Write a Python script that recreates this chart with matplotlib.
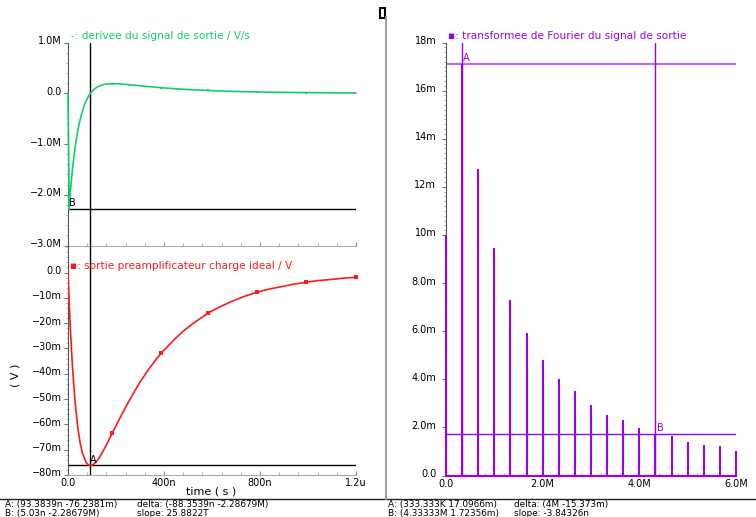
import matplotlib
matplotlib.use('Agg')
import matplotlib.pyplot as plt
import matplotlib.transforms as mtransforms
from matplotlib.patches import Rectangle
from matplotlib.lines import Line2D
from matplotlib.ticker import MultipleLocator

# ---------------- data ----------------
# output of the charge preamplifier: time in ns, value in mV
t_out_ns = [0, 5, 10, 15, 20, 30, 40, 50, 60, 75, 85, 93, 100, 110, 120, 130, 150, 170,
            183, 200, 220, 240, 260, 280, 300, 320, 340, 360, 388, 420, 450, 480, 520,
            540, 584, 630, 680, 730, 787, 840, 890, 940, 991, 1040, 1090, 1140, 1200]
v_out_mV = [0, -12.0, -22.4, -31.4, -39.2, -51.6, -60.6, -67.0, -71.3, -75.0, -76.0,
            -76.24, -76.1, -75.5, -74.5, -73.2, -69.9, -66.3, -63.6, -60.6, -56.8, -53.2,
            -49.8, -46.5, -43.3, -40.5, -37.7, -35.2, -31.9, -28.7, -25.8, -23.2, -20.2,
            -18.9, -16.0, -13.7, -11.5, -9.6, -7.8, -6.5, -5.6, -4.6, -3.9, -3.2, -2.8,
            -2.3, -1.9]
out_marker_idx = [18, 28, 34, 38, 42, 46]

# derivative of the output: time in ns, value in MV/s
t_der_ns = [0, 5.03, 7.5, 10, 15, 20, 25, 30, 35, 40, 45, 50, 60, 67, 75, 84, 93, 110,
            120, 130, 150, 170, 183, 200, 230, 260, 300, 340, 388, 430, 480, 530, 584,
            630, 680, 730, 787, 840, 890, 940, 991, 1050, 1100, 1150, 1200]
d_out_MVs = [0, -2.287, -2.078, -1.935, -1.673, -1.441, -1.237, -1.057, -0.899, -0.759,
             -0.636, -0.528, -0.348, -0.248, -0.154, -0.069, 0.0, 0.085, 0.119, 0.144,
             0.175, 0.188, 0.190, 0.189, 0.180, 0.167, 0.148, 0.131, 0.111, 0.096, 0.080,
             0.068, 0.056, 0.048, 0.039, 0.034, 0.028, 0.023, 0.019, 0.0165, 0.014,
             0.0113, 0.0095, 0.008, 0.0068]
der_marker_idx = [22, 28, 32, 36, 40]

# Fourier transform: frequency in MHz, magnitude in mV
fft_freq_MHz = [0.0, 0.33333, 0.66667, 1.0, 1.33333, 1.66667, 2.0, 2.33333, 2.66667, 3.0,
                3.33333, 3.66667, 4.0, 4.33333, 4.66667, 5.0, 5.33333, 5.66667, 6.0]
fft_mag_mV = [10.0, 17.0966, 12.7, 9.45, 7.3, 5.9, 4.8, 4.0, 3.48, 2.92, 2.53, 2.28,
              1.96, 1.72356, 1.61, 1.38, 1.26, 1.19, 1.03]
fft_marker_idx = [2, 5, 8, 11, 14, 17]

# tick labels
M = '\u2212'
top_yticks = [1.0, 0.0, -1.0, -2.0, -3.0]
top_ylabels = ['1.0M', '0.0', M + '1.0M', M + '2.0M', M + '3.0M']
bot_yticks = [0, -10, -20, -30, -40, -50, -60, -70, -80]
bot_ylabels = ['0.0', M + '10m', M + '20m', M + '30m', M + '40m', M + '50m', M + '60m',
               M + '70m', M + '80m']
time_ticks = [0, 400, 800, 1200]
time_labels = ['0.0', '400n', '800n', '1.2u']
fft_yticks = [0, 2, 4, 6, 8, 10, 12, 14, 16, 18]
fft_ylabels = ['0.0', '2.0m', '4.0m', '6.0m', '8.0m', '10m', '12m', '14m', '16m', '18m']
fft_xticks = [0, 2, 4, 6]
fft_xlabels = ['0.0', '2.0M', '4.0M', '6.0M']

# cursors
cursA_left = (93.3839, -76.2381)
cursB_left = (5.03, -2.28679)
cursA_right = (0.333333, 17.0966)
cursB_right = (4.33333, 1.72356)

status_left = [('A: (93.3839n -76.2381m)', 'delta: (-88.3539n -2.28679M)'),
               ('B: (5.03n -2.28679M)', 'slope: 25.8822T')]
status_right = [('A: (333.333K 17.0966m)', 'delta: (4M -15.373m)'),
                ('B: (4.33333M 1.72356m)', 'slope: -3.84326n')]

GREEN = '#14cc6e'
RED = '#ff1a1a'
PURPLE = '#9a00ea'
PURPLE_LIGHT = '#bb6cf0'

plt.rcParams['font.family'] = ['DejaVu Sans']
plt.rcParams['axes.unicode_minus'] = False

W, H = 756, 517
fig = plt.figure(figsize=(W / 100, H / 100), dpi=100)


def px_axes(x0, y0, x1, y1):
    return fig.add_axes([x0 / W, 1 - y1 / H, (x1 - x0) / W, (y1 - y0) / H])


def style(ax, xminor, yminor, ypad=1.5):
    ax.set_facecolor('none')
    for s in ['top', 'right']:
        ax.spines[s].set_visible(False)
    ax.spines['left'].set_color('#555555')
    ax.spines['bottom'].set_color('#aaaaaa')
    ax.tick_params(axis='y', which='major', direction='out', color='#777777',
                   labelsize=7, length=3, pad=ypad, width=0.8)
    ax.tick_params(axis='y', which='minor', direction='out', color='#aaaaaa',
                   length=1.5, width=0.6)
    ax.tick_params(axis='x', which='major', direction='in', color='#888888',
                   labelsize=7, length=3, pad=2.5, width=0.8)
    ax.tick_params(axis='x', which='minor', direction='in', color='#aaaaaa',
                   length=2, width=0.6)
    ax.xaxis.set_minor_locator(MultipleLocator(xminor))
    ax.yaxis.set_minor_locator(MultipleLocator(yminor))


def shift_ylabels(ax, dy_px=2.5):
    off = mtransforms.ScaledTranslation(0, dy_px / 100, fig.dpi_scale_trans)
    for lab in ax.get_yticklabels():
        lab.set_transform(lab.get_transform() + off)


# ---------------- top-left: derivative ----------------
ax1 = px_axes(68, 42.6, 356, 245.5)
ax1.set_xlim(0, 1200)
ax1.set_ylim(-3.0, 1.0)
style(ax1, 80, 0.2)
ax1.set_xticks(time_ticks)
ax1.set_xticklabels([])
ax1.set_yticks(top_yticks)
ax1.set_yticklabels(top_ylabels)
shift_ylabels(ax1)
ax1.plot(t_der_ns, d_out_MVs, color=GREEN, lw=1.2, clip_on=False, zorder=3)
ax1.plot([t_der_ns[i] for i in der_marker_idx], [d_out_MVs[i] for i in der_marker_idx],
         ls='none', marker='s', ms=1.8, mew=0, color=GREEN, zorder=4)
ax1.axhline(cursB_left[1], color='black', lw=1)
ax1.axvline(cursA_left[0], color='black', lw=1)
ax1.text(cursB_left[0], cursB_left[1] + 0.02, 'B', fontsize=7, ha='left', va='bottom')

# ---------------- bottom-left: output ----------------
ax2 = px_axes(68, 245.5, 356, 475)
ax2.set_xlim(0, 1200)
ax2.set_ylim(-80, 10.67)
style(ax2, 80, 2)
ax2.set_xticks(time_ticks)
ax2.set_xticklabels(time_labels)
ax2.set_yticks(bot_yticks)
ax2.set_yticklabels(bot_ylabels)
shift_ylabels(ax2)
ax2.plot(t_out_ns, v_out_mV, color=RED, lw=1.2, zorder=3)
ax2.plot([t_out_ns[i] for i in out_marker_idx], [v_out_mV[i] for i in out_marker_idx],
         ls='none', marker='s', ms=2.2, mew=0, color=RED, zorder=4, clip_on=False)
ax2.axhline(cursA_left[1], color='black', lw=1)
ax2.axvline(cursA_left[0], color='black', lw=1)
ax2.text(cursA_left[0] - 1, cursA_left[1] + 0.3, 'A', fontsize=7, ha='left', va='bottom')

# ---------------- right: Fourier transform ----------------
ax3 = px_axes(446, 42.5, 736, 475.5)
ax3.set_xlim(0, 6)
ax3.set_ylim(0, 18)
style(ax3, 0.4, 0.2, ypad=4)
ax3.set_xticks(fft_xticks)
ax3.set_xticklabels(fft_xlabels)
ax3.set_yticks(fft_yticks)
ax3.set_yticklabels(fft_ylabels)
shift_ylabels(ax3)
ax3.vlines(fft_freq_MHz, 0, fft_mag_mV, color=PURPLE, lw=1.5, zorder=3, clip_on=False)
ax3.plot([fft_freq_MHz[0], fft_freq_MHz[-1]], [0, 0], color=PURPLE, lw=1.5, zorder=3,
         clip_on=False)
ax3.plot([fft_freq_MHz[i] for i in fft_marker_idx], [fft_mag_mV[i] for i in fft_marker_idx],
         ls='none', marker='s', ms=1.8, mew=0, color=PURPLE, zorder=4)
ax3.axhline(cursA_right[1], color=PURPLE_LIGHT, lw=1.6, zorder=2)
ax3.axhline(cursB_right[1], color=PURPLE, lw=1, zorder=2)
ax3.axvline(cursA_right[0], color=PURPLE, lw=1, zorder=2)
ax3.axvline(cursB_right[0], color=PURPLE, lw=1, zorder=2)
ax3.text(cursA_right[0] + 0.02, cursA_right[1] + 0.05, 'A', fontsize=7, color=PURPLE,
         ha='left', va='bottom')
ax3.text(cursB_right[0] + 0.03, cursB_right[1] + 0.03, 'B', fontsize=7, color=PURPLE,
         ha='left', va='bottom')

# ---------------- legends / labels ----------------
fig.text(71 / W, 1 - 36 / H, '-: derivee du signal de sortie / V/s', color=GREEN,
         fontsize=7.6, ha='left', va='center')
fig.text(70 / W, 1 - 266 / H, '\u25aa: sortie preamplificateur charge ideal / V', color=RED,
         fontsize=7.6, ha='left', va='center')
fig.text(448 / W, 1 - 36 / H, '\u25aa: transformee de Fourier du signal de sortie',
         color=PURPLE, fontsize=7.6, ha='left', va='center')
fig.text(16 / W, 1 - 375 / H, '( V )', rotation=90, fontsize=8, ha='center', va='center')
fig.text(211 / W, 1 - 492 / H, 'time ( s )', fontsize=8, ha='center', va='center')

# status lines
for row, (a, b) in enumerate(status_left):
    y = 1 - (504 + 9.5 * row) / H
    fig.text(5 / W, y, a, fontsize=6.4, ha='left', va='center')
    fig.text(137 / W, y, b, fontsize=6.4, ha='left', va='center')
for row, (a, b) in enumerate(status_right):
    y = 1 - (504 + 9.5 * row) / H
    fig.text(388 / W, y, a, fontsize=6.4, ha='left', va='center')
    fig.text(514 / W, y, b, fontsize=6.4, ha='left', va='center')

# frame lines
fig.add_artist(Line2D([0, 1], [1 - 499 / H, 1 - 499 / H], transform=fig.transFigure,
                      color='#222222', lw=1))
fig.add_artist(Line2D([386 / W, 386 / W], [1 - 17 / H, 1 - 499 / H], transform=fig.transFigure,
                      color='#999999', lw=1.3))
fig.add_artist(Rectangle((380.5 / W, 1 - 18 / H), 5 / W, 9.5 / H, transform=fig.transFigure,
                         facecolor='white', edgecolor='black', lw=1.5))

fig.savefig('out.png', dpi=100)
